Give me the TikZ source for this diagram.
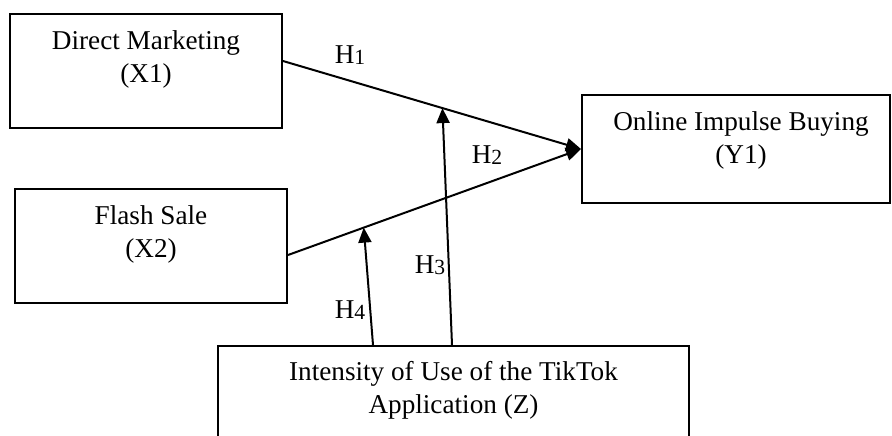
\documentclass[tikz,border=0pt]{standalone}
\usepackage{fontspec}
\setmainfont{Liberation Serif}
\usepackage{tikz}
\usetikzlibrary{arrows.meta,positioning,calc}

% hypothesis label with a barely lowered index
\newcommand{\hyp}[1]{H\raisebox{-0.8pt}{\fontsize{10.8}{10.8}\selectfont #1}}

\begin{document}
\begin{tikzpicture}[
  x=0.5pt, y=-0.5pt,
  every node/.style={font=\fontsize{13.6}{16.5}\selectfont},
  box/.style={draw, line width=1pt, minimum width=136pt, minimum height=57pt, inner sep=0pt},
  txt/.style={align=center, inner sep=0pt, anchor=north},
  arrow/.style={-{Triangle[length=7.5pt,width=6.5pt]}, line width=1pt}
]
\clip (0,0) rectangle (892,435);

% variables
\node[box] (dm) at (146,71) {};
\node[txt, below=8.5pt of dm.north] {Direct Marketing\\(X1)};
\node[box] (fs) at (151,246) {};
\node[txt, below=8.5pt of fs.north] {Flash Sale\\(X2)};
\node[box, minimum width=154pt, minimum height=54pt] (oib) at (736,149) {};
\node[txt, below=8.5pt of oib.north, xshift=2.5pt] {Online Impulse Buying\\(Y1)};
\node[box, minimum width=235.5pt, minimum height=65pt] (tik) at (453.5,411) {};
\node[txt, below=8pt of tik.north] {Intensity of Use of the TikTok\\Application (Z)};

% direct paths
\draw[arrow] ([yshift=5pt]dm.east) -- coordinate[pos=0.535] (m1) (oib.west);
\draw[arrow] ([yshift=-4.5pt]fs.east) -- coordinate[pos=0.2585] (m2) (oib.west);

% moderating paths
\draw[arrow] ([xshift=-0.75pt]tik.north) -- (m1);
\draw[arrow] ([xshift=-40.25pt]tik.north) -- (m2);

% hypotheses
\node (h1) at (350,55) {\hyp{1}};
\node (h2) at (487,155) {\hyp{2}};
\node (h3) at (430,265) {\hyp{3}};
\node (h4) at (350,310) {\hyp{4}};
\end{tikzpicture}
\end{document}
